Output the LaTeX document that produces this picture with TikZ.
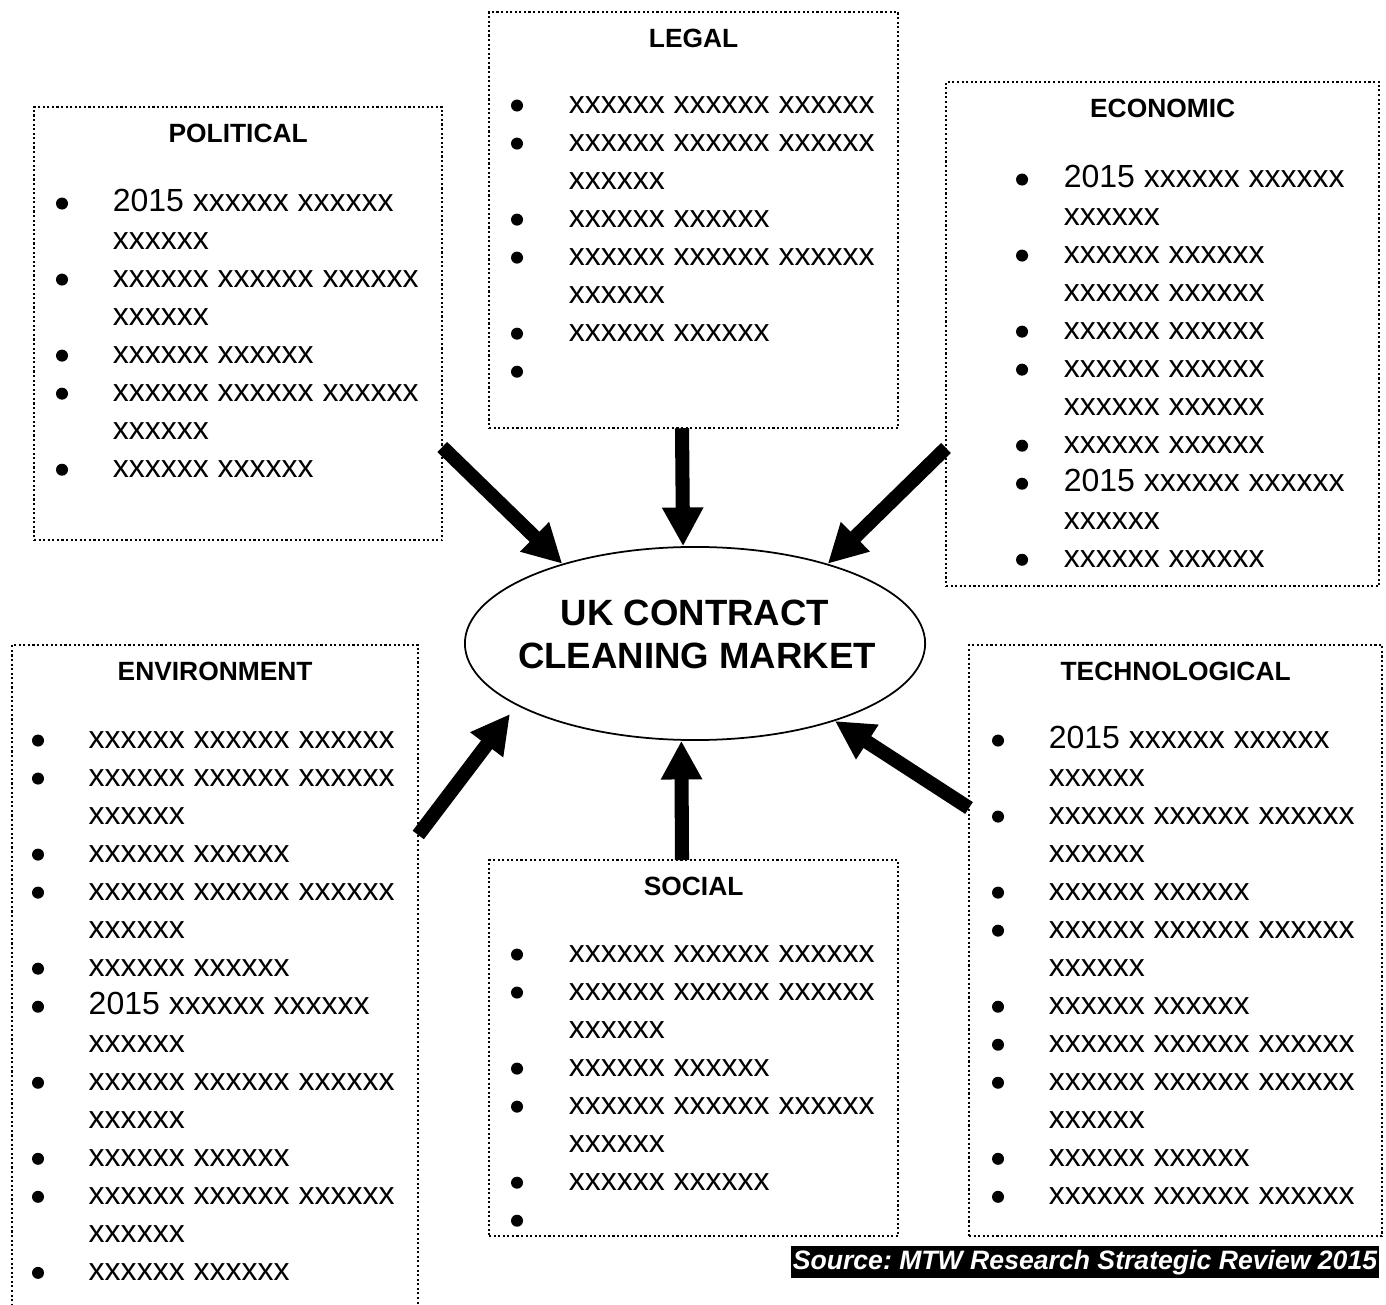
\documentclass[tikz,border=0pt]{standalone}
\usepackage{fontspec}
\setmainfont{Liberation Sans}
\usetikzlibrary{arrows.meta,positioning,shapes.geometric}

\tikzset{
  frame/.style={draw, line width=0.6pt, dash pattern=on 0.6pt off 0.7pt, inner sep=0pt, outer sep=0pt, anchor=north west},
  head/.style={font=\fontsize{7.5}{9}\selectfont\bfseries, anchor=base, inner sep=0pt},
  entry/.style={font=\fontsize{9.1}{10.8}\selectfont, anchor=base west, inner sep=0pt},
  dot/.style={circle, fill, inner sep=0pt, minimum size=0.12cm, yshift=0.075cm},
  nodot/.style={inner sep=0pt, yshift=0.075cm},
  push/.style={line width=4pt, -{Triangle[width=11pt,length=11pt]}},
}

\begin{document}
\begin{tikzpicture}[x=0.01cm, y=-0.01cm]
\clip (0,0) rectangle (1386,1304);

% the six boxes
\node[frame, minimum width=4.08cm, minimum height=4.33cm] (pol) at (34,107) {};
\node[frame, minimum width=4.09cm, minimum height=4.16cm] (leg) at (489,12) {};
\node[frame, minimum width=4.33cm, minimum height=5.04cm] (eco) at (946,82) {};
\node[frame, minimum width=4.06cm, minimum height=7.00cm] (env) at (12,645) {};
\node[frame, minimum width=4.09cm, minimum height=3.76cm] (soc) at (489,860) {};
\node[frame, minimum width=4.13cm, minimum height=5.91cm] (tec) at (969,645) {};

% titles
\node[head] (polt) at ([yshift=-0.35cm]pol.north) {POLITICAL};
\node[head] (legt) at ([yshift=-0.35cm]leg.north) {LEGAL};
\node[head] (ecot) at ([yshift=-0.35cm]eco.north) {ECONOMIC};
\node[head] (envt) at ([yshift=-0.35cm]env.north) {ENVIRONMENT};
\node[head] (soct) at ([yshift=-0.35cm]soc.north) {SOCIAL};
\node[head] (tect) at ([yshift=-0.35cm]tec.north) {TECHNOLOGICAL};

% bullet lines (dot = new point, nodot = wrapped line)
\foreach \b/\t [count=\i] in {dot/2015 xxxxxx xxxxxx, nodot/xxxxxx, dot/xxxxxx xxxxxx xxxxxx, nodot/xxxxxx,
    dot/xxxxxx xxxxxx, dot/xxxxxx xxxxxx xxxxxx, nodot/xxxxxx, dot/xxxxxx xxxxxx} {
  \node[\b] (polb\i) at ([xshift=0.28cm, yshift={-1.04cm-(\i-1)*0.38cm}]pol.north west) {};
  \node[entry] (pol\i) at ([xshift=0.78cm, yshift={-1.04cm-(\i-1)*0.38cm}]pol.north west) {\t};
}
\foreach \b/\t [count=\i] in {dot/xxxxxx xxxxxx xxxxxx, dot/xxxxxx xxxxxx xxxxxx, nodot/xxxxxx, dot/xxxxxx xxxxxx,
    dot/xxxxxx xxxxxx xxxxxx, nodot/xxxxxx, dot/xxxxxx xxxxxx, dot/{}} {
  \node[\b] (legb\i) at ([xshift=0.28cm, yshift={-1.01cm-(\i-1)*0.38cm}]leg.north west) {};
  \node[entry] (leg\i) at ([xshift=0.79cm, yshift={-1.01cm-(\i-1)*0.38cm}]leg.north west) {\t};
}
\foreach \b/\t [count=\i] in {dot/2015 xxxxxx xxxxxx, nodot/xxxxxx, dot/xxxxxx xxxxxx, nodot/xxxxxx xxxxxx,
    dot/xxxxxx xxxxxx, dot/xxxxxx xxxxxx, nodot/xxxxxx xxxxxx, dot/xxxxxx xxxxxx,
    dot/2015 xxxxxx xxxxxx, nodot/xxxxxx, dot/xxxxxx xxxxxx} {
  \node[\b] (ecob\i) at ([xshift=0.76cm, yshift={-1.05cm-(\i-1)*0.38cm}]eco.north west) {};
  \node[entry] (eco\i) at ([xshift=1.17cm, yshift={-1.05cm-(\i-1)*0.38cm}]eco.north west) {\t};
}
\foreach \b/\t [count=\i] in {dot/xxxxxx xxxxxx xxxxxx, dot/xxxxxx xxxxxx xxxxxx, nodot/xxxxxx, dot/xxxxxx xxxxxx,
    dot/xxxxxx xxxxxx xxxxxx, nodot/xxxxxx, dot/xxxxxx xxxxxx, dot/2015 xxxxxx xxxxxx, nodot/xxxxxx,
    dot/xxxxxx xxxxxx xxxxxx, nodot/xxxxxx, dot/xxxxxx xxxxxx, dot/xxxxxx xxxxxx xxxxxx, nodot/xxxxxx,
    dot/xxxxxx xxxxxx} {
  \node[\b] (envb\i) at ([xshift=0.26cm, yshift={-1.03cm-(\i-1)*0.38cm}]env.north west) {};
  \node[entry] (env\i) at ([xshift=0.76cm, yshift={-1.03cm-(\i-1)*0.38cm}]env.north west) {\t};
}
\foreach \b/\t [count=\i] in {dot/xxxxxx xxxxxx xxxxxx, dot/xxxxxx xxxxxx xxxxxx, nodot/xxxxxx, dot/xxxxxx xxxxxx,
    dot/xxxxxx xxxxxx xxxxxx, nodot/xxxxxx, dot/xxxxxx xxxxxx, dot/{}} {
  \node[\b] (socb\i) at ([xshift=0.28cm, yshift={-1.02cm-(\i-1)*0.38cm}]soc.north west) {};
  \node[entry] (soc\i) at ([xshift=0.79cm, yshift={-1.02cm-(\i-1)*0.38cm}]soc.north west) {\t};
}
\foreach \b/\t [count=\i] in {dot/2015 xxxxxx xxxxxx, nodot/xxxxxx, dot/xxxxxx xxxxxx xxxxxx, nodot/xxxxxx,
    dot/xxxxxx xxxxxx, dot/xxxxxx xxxxxx xxxxxx, nodot/xxxxxx, dot/xxxxxx xxxxxx,
    dot/xxxxxx xxxxxx xxxxxx, dot/xxxxxx xxxxxx xxxxxx, nodot/xxxxxx, dot/xxxxxx xxxxxx,
    dot/xxxxxx xxxxxx xxxxxx} {
  \node[\b] (tecb\i) at ([xshift=0.29cm, yshift={-1.03cm-(\i-1)*0.38cm}]tec.north west) {};
  \node[entry] (tec\i) at ([xshift=0.79cm, yshift={-1.03cm-(\i-1)*0.38cm}]tec.north west) {\t};
}

% the market in the middle
\node[draw, ellipse, line width=0.5pt, inner sep=0pt, minimum width=4.6cm, minimum height=1.93cm] (mkt) at (695,643.5) {};
\node[font=\fontsize{10.4}{12.2}\selectfont\bfseries, anchor=base, inner sep=0pt] (mkt1) at (695,625) {UK CONTRACT};
\node[font=\fontsize{10.4}{12.2}\selectfont\bfseries, anchor=base, inner sep=0pt] (mkt2) at (697,668) {CLEANING MARKET};

% arrows into the market
\coordinate (envtip) at (510,714);
\draw[push] (pol.east |- 0,447) -- (mkt.149.5);
\draw[push] (leg.south -| 682,0) -- (mkt.97.7);
\draw[push] (eco.west |- 0,448) -- (mkt.31.2);
\draw[push] (env.east |- 0,835) -- (envtip);
\draw[push] (soc.north -| 682,0) -- (mkt.262.3);
\draw[push] (tec.west |- 0,808) -- (mkt.-29.3);

% source
\node[fill=black, text=white, font=\fontsize{7.57}{9}\selectfont\bfseries\itshape\frenchspacing, inner xsep=0.6pt, inner ysep=1pt, anchor=base east] (src) at (1380,1269) {Source: MTW Research Strategic Review 2015};

\end{tikzpicture}
\end{document}
